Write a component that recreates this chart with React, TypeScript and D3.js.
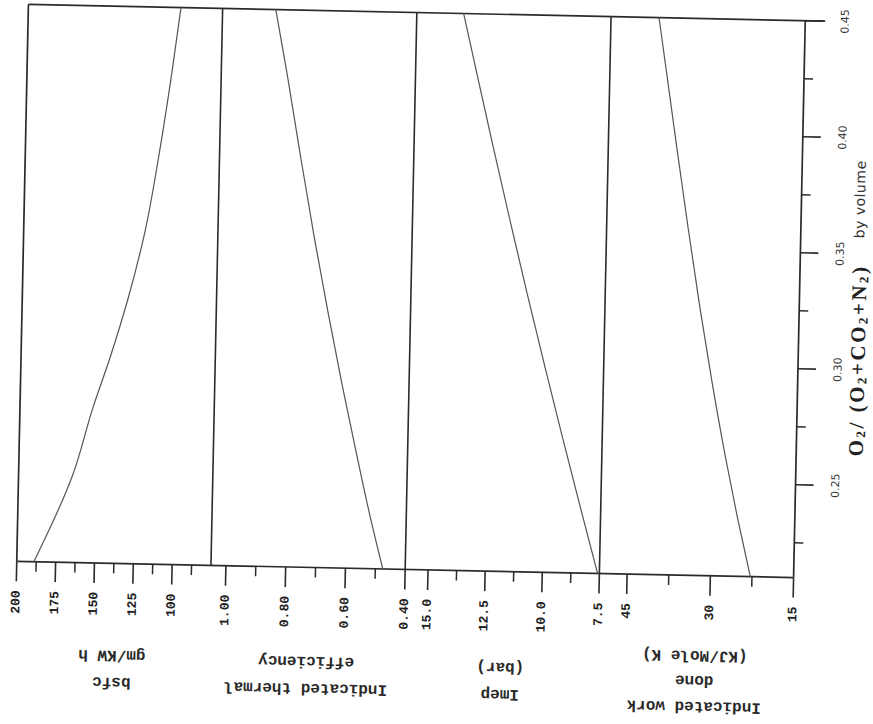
import React from 'react';
import * as d3 from 'd3';

// ---- data ----
const o2Bsfc = [0.21, 0.248, 0.277, 0.298, 0.324, 0.353, 0.389, 0.424, 0.45];
const bsfcValues = [189, 165, 153, 143, 132, 122, 113.4, 106.4, 101.8];

const o2Eff = [0.21, 0.231, 0.26, 0.289, 0.32, 0.352, 0.387, 0.422, 0.45];
const effValues = [0.475, 0.518, 0.572, 0.624, 0.676, 0.727, 0.779, 0.829, 0.872];

const o2Imep = [0.21, 0.24, 0.268, 0.297, 0.329, 0.36, 0.395, 0.424, 0.45];
const imepValues = [7.58, 8.44, 9.23, 10.03, 10.89, 11.7, 12.59, 13.31, 13.95];

const o2Work = [0.21, 0.236, 0.261, 0.294, 0.326, 0.359, 0.392, 0.425, 0.45];
const workValues = [22.8, 25.4, 27.7, 30.47, 32.93, 35.27, 37.51, 39.69, 41.35];

const o2Domain = [0.21, 0.45];
const o2Ticks = [0.25, 0.3, 0.35, 0.4, 0.45];
const o2Minor = [0.225, 0.275, 0.325, 0.375, 0.425];

const bsfcDomain = [200, 75];
const bsfcTicks = [200, 175, 150, 125, 100];
const bsfcMinor = [187.5, 162.5, 137.5, 112.5, 87.5];
const bsfcTickLabels = ['200', '175', '150', '125', '100'];

const effDomain = [1.05, 0.4];
const effTicks = [1.0, 0.8, 0.6, 0.4];
const effMinor = [0.9, 0.7, 0.5];
const effTickLabels = ['1.00', '0.80', '0.60', '0.40'];

const imepDomain = [16, 7.5];
const imepTicks = [15, 12.5, 10, 7.5];
const imepMinor = [13.75, 11.25, 8.75];
const imepTickLabels = ['15.0', '12.5', '10.0', '7.5'];

const workDomain = [50, 15];
const workTicks = [45, 30, 15];
const workMinor = [37.5, 22.5];
const workTickLabels = ['45', '30', '15'];

const bsfcTitle = ['bsfc', 'gm/KW h'];
const effTitle = ['Indicated thermal', 'efficiency'];
const imepTitle = ['Imep', '(bar)'];
const workTitle = ['Indicated work', 'done', '(KJ/Mole K)'];

// ---- layout ----
const W = 873;
const H = 724;
const L = 22.5;
const R = 799.5;
const T = 12.5;
const B = 569.5;
const PW = (R - L) / 4;
const ROT = 1.2;
const CX = 411;
const CY = 291;

const frameColor = '#2b2b2b';
const curveColor = '#555';
const monoFont = '"Liberation Mono", "DejaVu Sans Mono", monospace';

const yScale = d3.scaleLinear().domain(o2Domain).range([B, T]);

const panels = [
  { domain: bsfcDomain, ticks: bsfcTicks, minor: bsfcMinor, labels: bsfcTickLabels, o2: o2Bsfc, vals: bsfcValues, title: bsfcTitle, titleY: [688, 661] },
  { domain: effDomain, ticks: effTicks, minor: effMinor, labels: effTickLabels, o2: o2Eff, vals: effValues, title: effTitle, titleY: [690, 663] },
  { domain: imepDomain, ticks: imepTicks, minor: imepMinor, labels: imepTickLabels, o2: o2Imep, vals: imepValues, title: imepTitle, titleY: [692, 665] },
  { domain: workDomain, ticks: workTicks, minor: workMinor, labels: workTickLabels, o2: o2Work, vals: workValues, title: workTitle, titleY: [700, 674, 649] },
].map((p, i) => ({
  ...p,
  x0: L + i * PW,
  x1: L + (i + 1) * PW,
  scale: d3.scaleLinear().domain(p.domain).range([L + i * PW, L + (i + 1) * PW]),
}));

export default function App() {
  return (
    <svg
      width={W}
      height={H}
      style={{ position: 'absolute', left: 0, top: 0, background: '#fff' }}
    >
      <rect x={0} y={0} width={W} height={H} fill="#fff" />
      <g transform={`rotate(${ROT}, ${CX}, ${CY})`}>
        {/* frame */}
        <line x1={L} y1={T} x2={R + 20} y2={T} stroke={frameColor} strokeWidth={1.7} />
        <line x1={L} y1={B} x2={R} y2={B} stroke={frameColor} strokeWidth={1.7} />
        <line x1={L} y1={T} x2={L} y2={B} stroke={frameColor} strokeWidth={1.7} />
        <line x1={R} y1={T} x2={R} y2={B} stroke={frameColor} strokeWidth={1.7} />
        {panels.slice(1).map((p, i) => (
          <line key={`div${i}`} x1={p.x0} y1={T} x2={p.x0} y2={B} stroke={frameColor} strokeWidth={1.6} />
        ))}

        {/* right O2 axis */}
        {o2Ticks.map((t) => (
          <g key={`o2t${t}`}>
            <line x1={R} y1={yScale(t)} x2={R + 18} y2={yScale(t)} stroke={frameColor} strokeWidth={1.6} />
            <text
              transform={`translate(${R + 40}, ${yScale(t)}) rotate(-90)`}
              textAnchor="middle"
              dominantBaseline="central"
              fontFamily='"DejaVu Sans", sans-serif'
              fontSize={11}
              fill="#3a3a3a"
            >
              {t.toFixed(2)}
            </text>
          </g>
        ))}
        {o2Minor.map((t) => (
          <line key={`o2m${t}`} x1={R} y1={yScale(t)} x2={R + 9} y2={yScale(t)} stroke={frameColor} strokeWidth={1.5} />
        ))}

        {/* right title */}
        <text
          transform={`translate(859, 351) rotate(-90)`}
          textAnchor="middle"
          dominantBaseline="central"
          fontFamily='"Liberation Serif", "DejaVu Serif", serif'
          fontWeight="bold"
          fontSize={21}
          letterSpacing={2.5}
          fill="#222"
        >
          O<tspan fontSize={13} dy={4}>2</tspan>
          <tspan dy={-4}>/ (O</tspan>
          <tspan fontSize={13} dy={4}>2</tspan>
          <tspan dy={-4}>+CO</tspan>
          <tspan fontSize={13} dy={4}>2</tspan>
          <tspan dy={-4}>+N</tspan>
          <tspan fontSize={13} dy={4}>2</tspan>
          <tspan dy={-4}>)</tspan>
        </text>
        <text
          transform={`translate(858, 190) rotate(-90)`}
          textAnchor="middle"
          dominantBaseline="central"
          fontFamily='"DejaVu Sans", sans-serif'
          fontSize={14}
          letterSpacing={0.5}
          fill="#333"
        >
          by volume
        </text>

        {panels.map((p, pi) => {
          const line = d3
            .line<[number, number]>()
            .x((d) => p.scale(d[1]))
            .y((d) => yScale(d[0]))
            .curve(d3.curveMonotoneY);
          const pts: [number, number][] = p.o2.map((o, i) => [o, p.vals[i]] as [number, number]);
          pts.sort((a, b) => b[0] - a[0]);
          const cx = (p.x0 + p.x1) / 2;
          return (
            <g key={`panel${pi}`}>
              <path d={line(pts) || ''} fill="none" stroke={curveColor} strokeWidth={1.2} />
              {p.ticks.map((t, i) => (
                <g key={`t${t}`}>
                  <line x1={p.scale(t)} y1={B} x2={p.scale(t)} y2={B + 20} stroke={frameColor} strokeWidth={1.6} />
                  <text
                    transform={`translate(${p.scale(t)}, ${B + 29}) rotate(-90)`}
                    textAnchor="end"
                    dominantBaseline="central"
                    fontFamily={monoFont}
                    fontWeight="bold"
                    fontSize={13}
                    fill="#222"
                  >
                    {p.labels[i]}
                  </text>
                </g>
              ))}
              {p.minor.map((t) => (
                <line key={`m${t}`} x1={p.scale(t)} y1={B} x2={p.scale(t)} y2={B + 10} stroke={frameColor} strokeWidth={1.5} />
              ))}
              {p.title.map((s, li) => (
                <text
                  key={`title${li}`}
                  transform={`translate(${cx}, ${p.titleY[li]}) rotate(180)`}
                  textAnchor="middle"
                  dominantBaseline="central"
                  fontFamily={monoFont}
                  fontWeight="bold"
                  fontSize={16}
                  fill="#2a2a2a"
                >
                  {s}
                </text>
              ))}
            </g>
          );
        })}
      </g>
    </svg>
  );
}
